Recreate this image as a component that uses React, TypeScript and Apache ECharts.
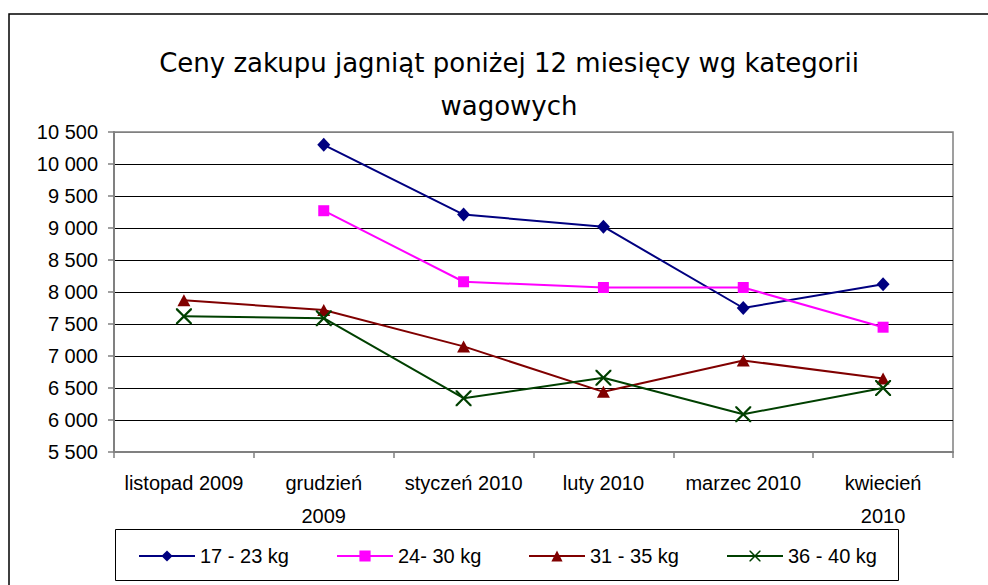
import React, { useEffect, useRef } from "react";
import * as echarts from "echarts";

const categories = ["listopad 2009", "grudzień\n2009", "styczeń 2010", "luty 2010", "marzec 2010", "kwiecień\n2010"];
const seriesNames = ["17 - 23 kg", "24- 30 kg", "31 - 35 kg", "36 - 40 kg"];
const s17_23 = [null, 10300, 9210, 9020, 7750, 8120];
const s24_30 = [null, 9270, 8160, 8070, 8070, 7450];
const s31_35 = [7870, 7720, 7150, 6440, 6930, 6650];
const s36_40 = [7620, 7590, 6340, 6660, 6090, 6500];
const titleText = "Ceny zakupu jagniąt poniżej 12 miesięcy wg kategorii\nwagowych";

const X_PATH =
  "path://M0,0L1.6,0L8,6.4L14.4,0L16,0L16,1.6L9.6,8L16,14.4L16,16L14.4,16L8,9.6L1.6,16L0,16L0,14.4L6.4,8L0,1.6Z";

const fmt = (v: number) => {
  if (v >= 1000) {
    const th = Math.floor(v / 1000);
    const rest = String(v % 1000).padStart(3, "0");
    return th + " " + rest;
  }
  return String(v);
};

export default function App() {
  const ref = useRef<HTMLDivElement>(null);
  useEffect(() => {
    if (!ref.current) return;
    const chart = echarts.init(ref.current, null, { renderer: "svg" });
    const font = "Liberation Sans, Arial, sans-serif";
    const colors = ["#000080", "#FF00FF", "#800000", "#004000"];
    const symbols = ["diamond", "rect", "triangle", X_PATH];
    const sizes: any[] = [[13, 14], 11, [13, 12], 16];
    const data = [s17_23, s24_30, s31_35, s36_40];
    const legendLefts = [138, 336, 528, 726];
    const splitColors = ["#808080"];
    for (let i = 0; i < 9; i++) splitColors.push("#000000");
    splitColors.push("#808080");

    chart.setOption({
      animation: false,
      backgroundColor: "#ffffff",
      graphic: [
        {
          type: "rect",
          shape: { x: 9, y: 14, width: 1000, height: 600 },
          style: { fill: "none", stroke: "#000000", lineWidth: 1.5 },
          z: 0,
        },
        {
          type: "text",
          x: 509,
          y: 41.5,
          style: {
            text: titleText,
            font: "26px 'DejaVu Sans', sans-serif",
            fill: "#000000",
            textAlign: "center",
            textVerticalAlign: "top",
            lineHeight: 43,
          },
        },
        {
          type: "rect",
          shape: { x: 115.5, y: 529.5, width: 783, height: 51 },
          style: { fill: "none", stroke: "#000000", lineWidth: 1 },
        },
      ],
      legend: seriesNames.map((n, i) => ({
        data: [n],
        left: legendLefts[i],
        top: 546,
        padding: 0,
        itemWidth: 56,
        itemHeight: 14,
        itemGap: 0,
        textStyle: { fontFamily: font, fontSize: 20, color: "#000000" },
      })),
      grid: { left: 114, right: 35, top: 132, bottom: 133, show: true, borderColor: "#808080", borderWidth: 1.5 },
      xAxis: {
        type: "category",
        data: categories,
        boundaryGap: true,
        axisLine: { lineStyle: { color: "#808080", width: 2 } },
        axisTick: { show: true, length: 6, alignWithLabel: false, lineStyle: { color: "#808080", width: 1.5 } },
        axisLabel: { color: "#000000", fontFamily: font, fontSize: 20, lineHeight: 33, margin: 14, interval: 0 },
      },
      yAxis: {
        type: "value",
        min: 5500,
        max: 10500,
        interval: 500,
        axisLine: { show: true, lineStyle: { color: "#808080", width: 2 } },
        axisTick: { show: true, length: 6, lineStyle: { color: "#808080", width: 1.5 } },
        axisLabel: { color: "#000000", fontFamily: font, fontSize: 20, margin: 16, formatter: fmt },
        splitLine: { show: true, lineStyle: { color: splitColors, width: 1 } },
      },
      series: seriesNames.map((n, i) => ({
        name: n,
        type: "line",
        data: data[i],
        symbol: symbols[i],
        symbolSize: sizes[i],
        showSymbol: true,
        connectNulls: false,
        lineStyle: { color: colors[i], width: 2 },
        itemStyle: { color: colors[i] },
        emphasis: { disabled: true },
      })),
    });
    return () => chart.dispose();
  }, []);
  return (
    <div
      ref={ref}
      style={{ position: "absolute", left: 0, top: 0, width: 988, height: 585 }}
    />
  );
}
